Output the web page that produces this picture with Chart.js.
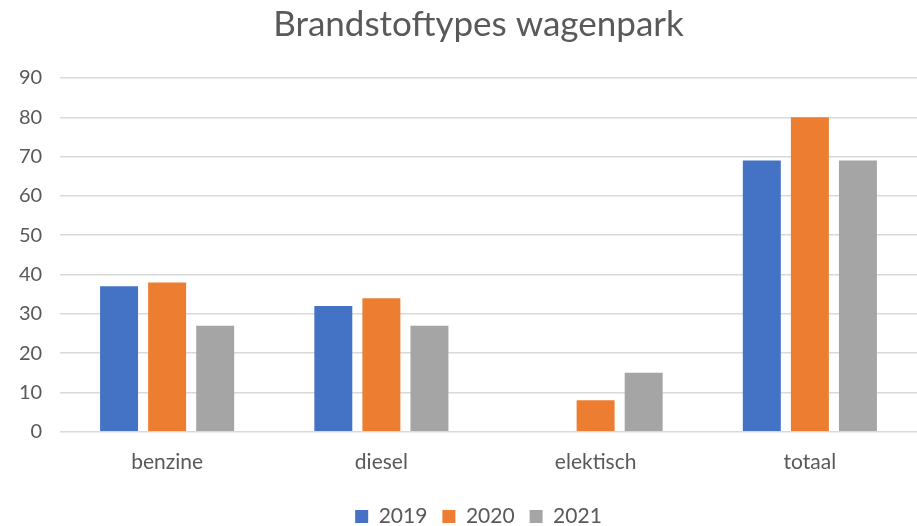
<!DOCTYPE html>
<html>
<head>
<meta charset="utf-8">
<script src="https://cdn.jsdelivr.net/npm/chart.js@4"></script>
<style>
  html, body { margin: 0; padding: 0; background: #fff; }
  #chart-container { width: 917px; height: 526px; }
</style>
</head>
<body>
<div id="chart-container"><canvas id="myChart"></canvas></div>
<script>
const categories = ["benzine", "diesel", "elektisch", "totaal"];
const years = ["2019", "2020", "2021"];
const values2019 = [37, 32, null, 69];
const values2020 = [38, 34, 8, 80];
const values2021 = [27, 27, 15, 69];
const yTicks = [0, 10, 20, 30, 40, 50, 60, 70, 80, 90];
const colors = ["#4472C4", "#ED7D31", "#A5A5A5"];

const fontFamily = "Lato, 'Open Sans', sans-serif";
const textColor = "#595959";

const data = {
    labels: categories,
    datasets: [values2019, values2020, values2021].map((vals, i) => ({
        label: years[i],
        data: vals,
        backgroundColor: colors[i],
        borderWidth: 0,
        categoryPercentage: 0.673,
        barPercentage: 0.79,
    })),
};

const config = {
    type: "bar",
    data: data,
    options: {
        responsive: true,
        maintainAspectRatio: false,
        animation: false,
        // the left padding centres title and legend like the original,
        // the y axis is kept narrow (mirrored labels are not clipped)
        layout: { padding: { left: 40, right: 0, top: 4, bottom: -11 } },
        plugins: {
            title: {
                display: true,
                text: "Brandstoftypes wagenpark",
                color: textColor,
                font: { family: fontFamily, size: 35, weight: "normal" },
                padding: { top: 0, bottom: 32 },
            },
            legend: {
                position: "bottom",
                labels: {
                    color: textColor,
                    font: { family: fontFamily, size: 21 },
                    boxWidth: 13,
                    boxHeight: 13,
                    padding: 15,
                },
            },
            tooltip: { enabled: false },
        },
        scales: {
            x: {
                grid: { display: false },
                border: { display: false },
                afterFit: (axis) => {
                    axis.height += 6;
                },
                ticks: {
                    color: textColor,
                    font: { family: fontFamily, size: 21 },
                    padding: 10,
                },
            },
            y: {
                min: 0,
                max: 90,
                afterBuildTicks: (axis) => {
                    axis.ticks = yTicks.map((v) => ({ value: v }));
                },
                afterFit: (axis) => {
                    axis.width = 20;
                },
                grid: { color: "#D9D9D9", lineWidth: 1.5, drawTicks: false },
                border: { display: false },
                ticks: {
                    mirror: true,
                    crossAlign: "far",
                    color: textColor,
                    font: { family: fontFamily, size: 20 },
                    padding: -41,
                },
            },
        },
    },
};

const myChart = new Chart(document.getElementById("myChart"), config);
</script>
</body>
</html>
